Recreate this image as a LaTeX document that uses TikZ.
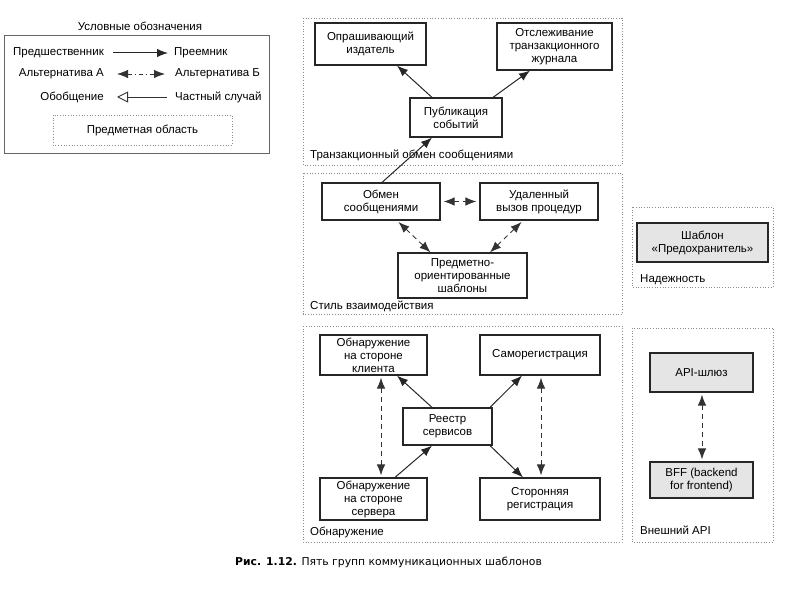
\documentclass[tikz,border=0pt]{standalone}
\usepackage{fontspec}
\setmainfont{Liberation Sans}
\newfontfamily\capfont{DejaVu Sans}
\usetikzlibrary{arrows.meta}
\begin{document}
\begin{tikzpicture}[x=1pt,y=-1pt,
  every node/.style={font=\fontsize{11.5}{13}\selectfont},
  box/.style={draw=black!85, line width=1.2pt, align=center, inner sep=2pt},
  gbox/.style={box, fill=black!10},
  region/.style={draw=black!45, dotted, line width=0.7pt},
  lbl/.style={inner sep=0pt, anchor=west},
  arr/.style={-{Latex[length=11pt,width=8.5pt]}, line width=1pt, draw=black!85},
  darr/.style={{Latex[length=11pt,width=8.5pt]}-{Latex[length=11pt,width=8.5pt]}, dash pattern=on 5pt off 4pt, line width=0.9pt, draw=black!80}
]
\useasboundingbox (0,0) rectangle (798,596);

% ---------- Legend ----------
\node (legt) at (140,26) {Условные обозначения};
\draw[draw=black!60, line width=0.9pt] (4,35) rectangle (269,153);
\node[inner sep=0pt, anchor=east] (pred) at (104,53) {Предшественник};
\node[inner sep=0pt, anchor=west] (succ) at (174,53) {Преемник};
\draw[arr, shorten <=9pt, shorten >=6pt] (pred.east) -- (succ.west);
\node[inner sep=0pt, anchor=east] (alta) at (104,74) {Альтернатива А};
\node[inner sep=0pt, anchor=west] (altb) at (175,74) {Альтернатива Б};
\draw[{Latex[length=11pt,width=8.5pt]}-{Latex[length=11pt,width=8.5pt]}, dash pattern=on 4pt off 3pt on 1.2pt off 3pt, line width=0.9pt, draw=black!80, shorten <=13pt, shorten >=10pt] (alta.east) -- (altb.west);
\node[inner sep=0pt, anchor=east] (gen) at (104,97) {Обобщение};
\node[inner sep=0pt, anchor=west] (spec) at (175,97) {Частный случай};
\draw[{Triangle[open,length=11pt,width=11pt,line width=0.9pt]}-, line width=0.9pt, draw=black!80, shorten <=13pt, shorten >=8pt] (gen.east) -- (spec.west);
\draw[region] (53,115) rectangle (232,145);
\node (legarea) at (142.5,130) {Предметная область};

% ---------- Transactional messaging ----------
\draw[region] (303,18) rectangle (622,165);
\node[lbl] (r1) at (310,155) {Транзакционный обмен сообщениями};
\node[box, minimum width=111pt, minimum height=42pt] (poll) at (370.5,44) {Опрашивающий\\издатель};
\node[box, minimum width=115pt, minimum height=47pt] (track) at (554.5,46.5) {Отслеживание\\транзакционного\\журнала};
\node[box, minimum width=92pt, minimum height=39pt] (pub) at (456,117.5) {Публикация\\событий};
\draw[arr] ([xshift=-24pt]pub.north) -- ([xshift=26.5pt]poll.south);
\draw[arr] ([xshift=37pt]pub.north) -- ([xshift=-24.5pt]track.south);

% ---------- Interaction style ----------
\draw[region] (303,173) rectangle (622,314);
\node[lbl] (r2) at (310,306.5) {Стиль взаимодействия};
\node[box, minimum width=118pt, minimum height=37pt] (msg) at (381,201.5) {Обмен\\сообщениями};
\node[box, minimum width=118pt, minimum height=37pt] (rpc) at (539,201.5) {Удаленный\\вызов процедур};
\node[box, minimum width=129pt, minimum height=45pt] (ddd) at (462.5,275.5) {Предметно-\\ориентированные\\шаблоны};
\draw[arr] ([xshift=1pt]msg.north) -- ([xshift=-24pt]pub.south);
\draw[darr, shorten <=3pt, shorten >=3pt] (msg.east) -- (rpc.west);
\draw[darr, shorten <=2pt] ([xshift=16pt]msg.south) -- ([xshift=-32pt]ddd.north);
\draw[darr, shorten <=2pt] ([xshift=-16pt]rpc.south) -- ([xshift=27.5pt]ddd.north);

% ---------- Discovery ----------
\draw[region] (303,326) rectangle (622,542);
\node[lbl] (r3) at (310,532) {Обнаружение};
\node[box, minimum width=107pt, minimum height=40pt] (client) at (373.5,355) {Обнаружение\\на стороне\\клиента};
\node[box, minimum width=120pt, minimum height=40pt] (self) at (540,355) {Саморегистрация};
\node[box, minimum width=89pt, minimum height=37pt] (reg) at (447.5,426.5) {Реестр\\сервисов};
\node[box, minimum width=107pt, minimum height=42pt] (server) at (373.5,499) {Обнаружение\\на стороне\\сервера};
\node[box, minimum width=120pt, minimum height=42pt] (third) at (540,499) {Сторонняя\\регистрация};
\draw[arr] ([xshift=-15.5pt]reg.north) -- ([xshift=23.5pt]client.south);
\draw[arr] ([xshift=42.5pt]reg.north) -- ([xshift=-18pt]self.south);
\draw[arr] ([xshift=21.5pt]server.north) -- ([xshift=-15.5pt]reg.south);
\draw[arr] ([xshift=42.5pt]reg.south) -- ([xshift=-17pt]third.north);
\draw[darr, shorten <=2pt, shorten >=2pt] ([xshift=7.5pt]client.south) -- ([xshift=7.5pt]server.north);
\draw[darr, shorten <=2pt, shorten >=2pt] ([xshift=1pt]self.south) -- ([xshift=1pt]third.north);

% ---------- Reliability ----------
\draw[region] (632,207) rectangle (773,287);
\node[lbl] (r4) at (640,279.5) {Надежность};
\node[gbox, minimum width=131pt, minimum height=39pt] (cb) at (702.5,242.5) {Шаблон\\«Предохранитель»};

% ---------- External API ----------
\draw[region] (632,328) rectangle (773,542);
\node[lbl] (r5) at (640,530) {Внешний API};
\node[gbox, minimum width=103pt, minimum height=39pt] (api) at (701.5,372.5) {API-шлюз};
\node[gbox, minimum width=103pt, minimum height=36pt] (bff) at (701.5,480) {BFF (backend\\for frontend)};
\draw[darr, shorten <=2pt, shorten >=2pt] ([xshift=0.5pt]api.south) -- ([xshift=0.5pt]bff.north);

% ---------- Caption ----------
\node[inner sep=0pt, anchor=west, font=\capfont\fontsize{10.8}{12}\selectfont] (cap) at (235,562) {\textbf{Рис. 1.12.} Пять групп коммуникационных шаблонов};
\end{tikzpicture}
\end{document}
